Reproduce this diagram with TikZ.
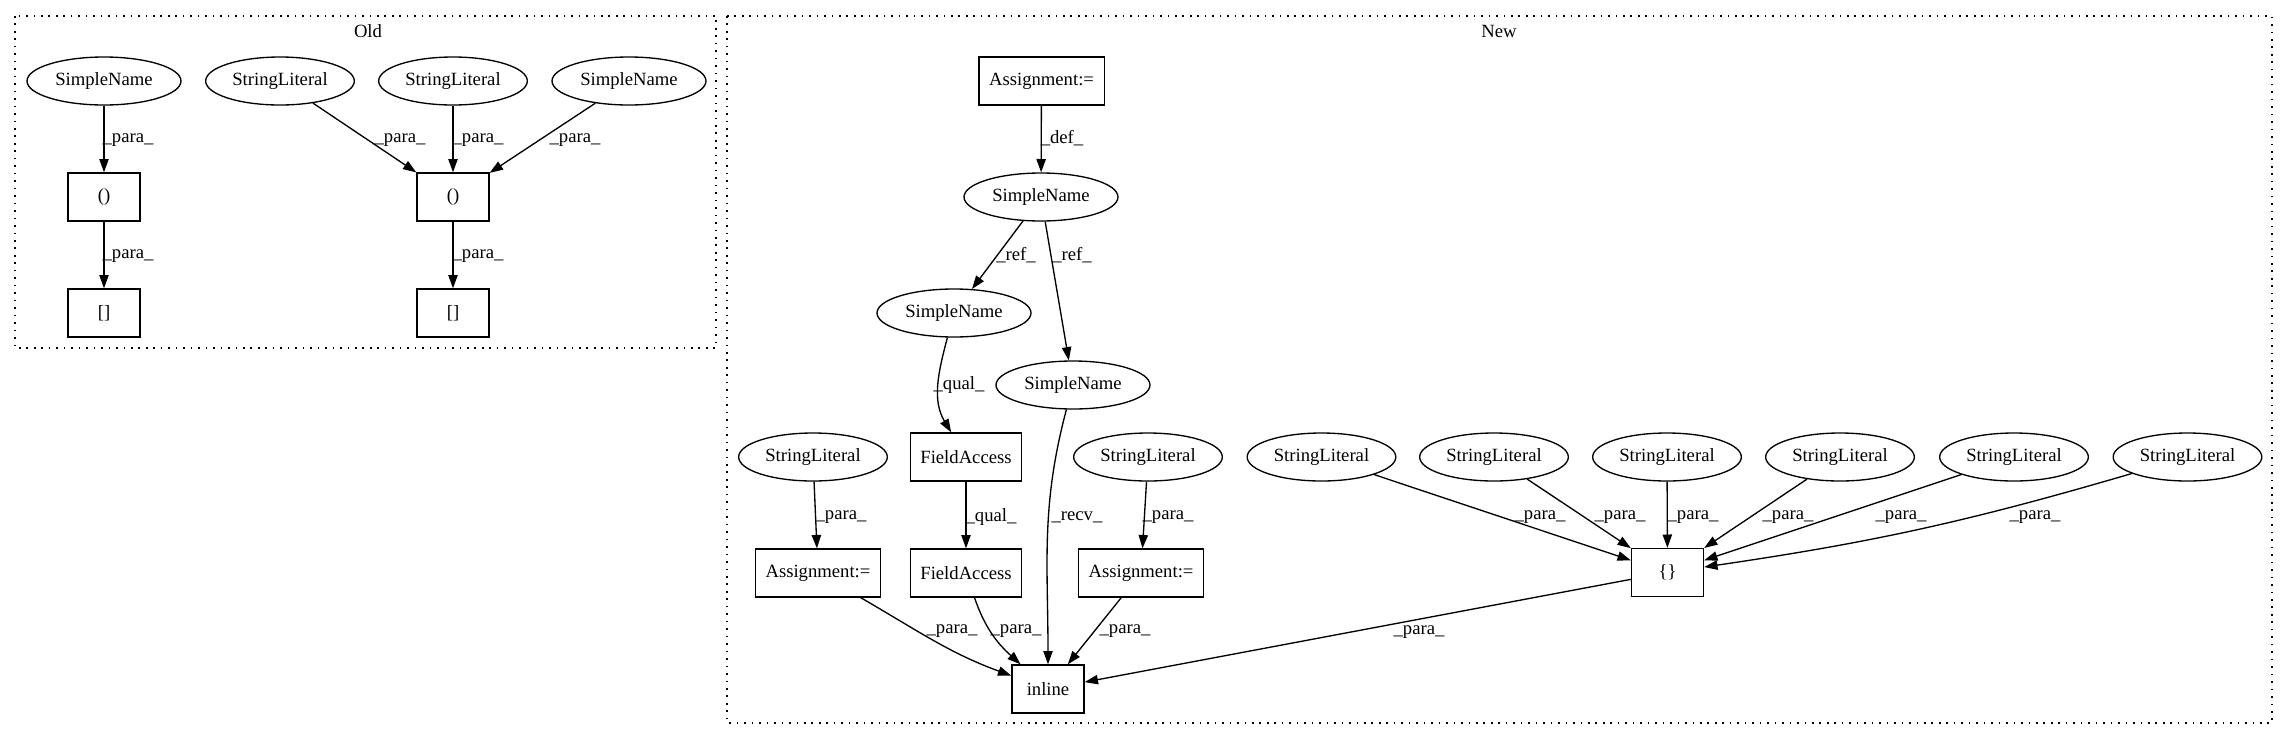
\documentclass[tikz,border=0pt]{standalone}
\usepackage{fontspec}
\setmainfont{Liberation Serif}
\usepackage{tikz}
\usetikzlibrary{shapes.geometric, arrows.meta}
\tikzstyle{oval} = [ellipse, draw=black, line width=1pt, minimum height=36pt,
inner sep=0pt, font=\fontsize{14}{16}\selectfont]
\tikzstyle{sname} = [oval, minimum width=115.5pt]
\tikzstyle{slit} = [oval, minimum width=111.5pt]
\tikzstyle{box} = [rectangle, draw=black, line width=1pt, minimum width=54pt,
minimum height=36pt, inner sep=0pt, font=\fontsize{14}{16}\selectfont]
\tikzstyle{arrow} = [line width=1pt, ->, >={Triangle[length=10pt,width=7pt]}]
\tikzstyle{lbl} = [inner sep=0pt, font=\fontsize{14}{16}\selectfont]
\tikzstyle{cluster} = [line width=1pt, dash pattern=on 1.2pt off 4.4pt]

\begin{document}
\begin{tikzpicture}[x=0.75pt, y=0.75pt]
    \useasboundingbox (0,0) rectangle (2289,-740);
    % Old
    \draw [cluster] (15,-16) rectangle (716,-348); \node (tO) [lbl] at
    (368,-31) {Old}; \node (SN1) [sname] at (104,-81) {SimpleName}; \node
    (SL1) [slit] at (280,-81) {StringLiteral}; \node (SL2) [slit] at
    (453,-81) {StringLiteral}; \node (SN2) [sname] at (629,-81) {SimpleName};
    \node (P1) [box] at (104,-197) {()}; \node (B1) [box] at (104,-313) {[]};
    \node (P2) [box] at (453,-197) {()}; \node (B2) [box] at (453,-313) {[]};

    \draw [arrow] (SN1) -- (P1) node[lbl] at (128,-140) {\_para\_}; \draw
    [arrow] (P1) -- (B1) node[lbl] at (128,-256) {\_para\_}; \draw [arrow]
    (SL1) -- (P2) node[lbl] at (400,-140) {\_para\_}; \draw [arrow] (SL2) --
    (P2) node[lbl] at (478,-140) {\_para\_}; \draw [arrow] (SN2) -- (P2)
    node[lbl] at (575,-140) {\_para\_}; \draw [arrow] (P2) -- (B2) node[lbl]
    at (478,-256) {\_para\_};

    % New
    \draw [cluster] (727,-16) rectangle (2272,-723); \node (tN) [lbl] at
    (1499,-31) {New}; \node (A0) [box, minimum width=94pt] at (1041.5,-81)
    {Assignment:=}; \node (SNA) [sname] at (1041,-197) {SimpleName}; \node
    (SNB) [sname] at (954,-313) {SimpleName}; \node (SNC) [sname] at
    (1073,-385) {SimpleName}; \node (SLL) [slit] at (813,-457)
    {StringLiteral}; \node (FA1) [box, minimum width=83pt] at (966,-457)
    {FieldAccess}; \node (SLM) [slit] at (1148,-457) {StringLiteral}; \node
    (AL) [box, minimum width=94pt] at (818,-573) {Assignment:=}; \node (FA2)
    [box, minimum width=83pt] at (966,-573) {FieldAccess}; \node (AR) [box,
      minimum width=94pt] at (1141,-573) {Assignment:=}; \node (IN) [box] at
    (1048,-689) {inline};
    \node (SLa) [slit] at (1321.5,-457) {StringLiteral}; \node (SLb) [slit]
    at (1494,-457) {StringLiteral}; \node (SLc) [slit] at (1667,-457)
    {StringLiteral}; \node (SLd) [slit] at (1840,-457) {StringLiteral}; \node
    (SLe) [slit] at (2014,-457) {StringLiteral}; \node (SLf) [slit] at
    (2187.5,-457) {StringLiteral}; \node (BR) [box] at (1667.5,-572.5)
    {\{\}};

    \draw [arrow] (A0) -- (SNA) node[lbl] at (1062,-138) {\_def\_}; \draw
    [arrow] (SNA) -- (SNB) node[lbl] at (1016,-255) {\_ref\_}; \draw [arrow]
    (SNA) -- (SNC) node[lbl] at (1072,-255) {\_ref\_}; \draw [arrow] (SNB)
    to[out=-105, in=121] (FA1) node[lbl] at (959,-385) {\_qual\_}; \draw
    [arrow] (FA1) -- (FA2) node[lbl] at (991,-517) {\_qual\_}; \draw [arrow]
    (SLL) -- (AL) node[lbl] at (841,-517) {\_para\_}; \draw [arrow] (SLM) --
    (AR) node[lbl] at (1168,-517) {\_para\_}; \draw [arrow] (SNC)
    to[out=-105, in=90] (IN) node[lbl] at (1077,-517) {\_recv\_}; \draw
    [arrow] (AL) to[out=-30, in=160] (IN) node[lbl] at (952,-631)
    {\_para\_}; \draw [arrow] (FA2) to[out=-71, in=138] (IN) node[lbl] at
    (1016,-631) {\_para\_}; \draw [arrow] (AR) -- (IN) node[lbl] at
    (1125,-631) {\_para\_};
    \draw [arrow] (SLa) -- (BR) node[lbl] at (1540,-517) {\_para\_}; \draw
    [arrow] (SLb) -- (BR) node[lbl] at (1620,-517) {\_para\_}; \draw [arrow]
    (SLc) -- (BR) node[lbl] at (1693,-517) {\_para\_}; \draw [arrow] (SLd) --
    (BR) node[lbl] at (1788,-517) {\_para\_}; \draw [arrow] (SLe) -- (BR)
    node[lbl] at (1901,-517) {\_para\_}; \draw [arrow] (SLf) to[bend left=4]
    (BR) node[lbl] at (2035,-517) {\_para\_}; \draw [arrow] (BR) -- (IN)
    node[lbl] at (1419,-632) {\_para\_};

  \end{tikzpicture}
\end{document}
